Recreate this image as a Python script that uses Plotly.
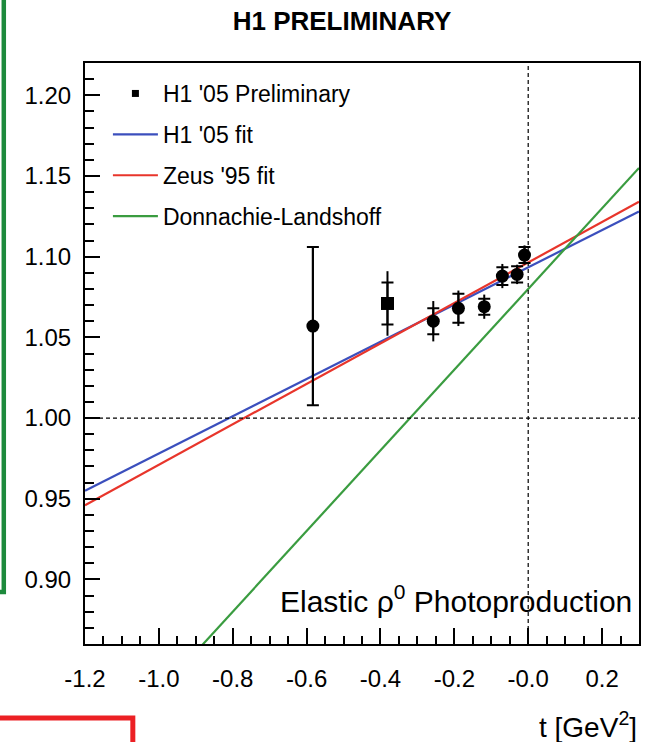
import plotly.graph_objects as go

# Measured Regge trajectory points alpha(t) for elastic rho0 photoproduction
t_data = [-0.583, -0.381, -0.257, -0.189, -0.119, -0.070, -0.030, -0.010]
alpha_data = [1.057, 1.071, 1.060, 1.068, 1.069, 1.088, 1.089, 1.101]
stat_err = [0.049, 0.013, 0.008, 0.009, 0.005, 0.0055, 0.005, 0.005]
total_err = [0.049, 0.020, 0.0125, 0.011, 0.0075, 0.0075, 0.006, 0.006]
point_symbols = ["circle", "square", "circle", "circle", "circle", "circle", "circle", "circle"]

# Straight-line trajectories, given by their values at the ends of the t range
t_fit = [-1.2, 0.3]
h1_fit = [0.955, 1.128]
zeus_fit = [0.946, 1.134]
dl_fit = [0.780, 1.155]

x_ticks = [-1.2, -1.0, -0.8, -0.6, -0.4, -0.2, 0.0, 0.2]
x_ticklabels = ["-1.2", "-1.0", "-0.8", "-0.6", "-0.4", "-0.2", "-0.0", "0.2"]
y_ticks = [0.90, 0.95, 1.00, 1.05, 1.10, 1.15, 1.20]
y_ticklabels = ["0.90", "0.95", "1.00", "1.05", "1.10", "1.15", "1.20"]

FONT = "Liberation Sans, Arial, Helvetica, sans-serif"
BLUE = "#3b4fbd"
RED = "#e8352b"
GREEN = "#3a9c40"

fig = go.Figure()

# legend entry for the data points (small square as in the ROOT legend)
fig.add_trace(go.Scatter(
    x=[None], y=[None], mode="markers", name="H1 '05 Preliminary",
    marker=dict(symbol="square", size=7, color="black"),
    legendgroup="a",
))

for name, vals, col, grp in [("H1 '05 fit", h1_fit, BLUE, "b"),
                             ("Zeus '95 fit", zeus_fit, RED, "c"),
                             ("Donnachie-Landshoff", dl_fit, GREEN, "d")]:
    fig.add_trace(go.Scatter(
        x=t_fit, y=vals, mode="lines", name=name,
        line=dict(color=col, width=2.2), legendgroup=grp,
    ))

# total errors (plain bars)
fig.add_trace(go.Scatter(
    x=t_data, y=alpha_data, mode="markers", showlegend=False,
    marker=dict(size=1, color="rgba(0,0,0,0)"),
    error_y=dict(type="data", array=total_err, width=0, thickness=2, color="black"),
))
# statistical errors (with crossbars)
fig.add_trace(go.Scatter(
    x=t_data, y=alpha_data, mode="markers", showlegend=False,
    marker=dict(size=1, color="rgba(0,0,0,0)"),
    error_y=dict(type="data", array=stat_err, width=6, thickness=2, color="black"),
))
fig.add_trace(go.Scatter(
    x=t_data, y=alpha_data, mode="markers", showlegend=False,
    marker=dict(symbol=point_symbols, size=13, color="black"),
))

# reference lines alpha = 1 and t = 0
fig.add_shape(type="line", xref="x", yref="y", x0=-1.2, x1=0.3, y0=1.0, y1=1.0,
              line=dict(color="black", width=1.2, dash="4px,3px"))
fig.add_shape(type="line", xref="x", yref="y", x0=0.0, x1=0.0, y0=0.86, y1=1.22,
              line=dict(color="black", width=1.2, dash="4px,3px"))

# surrounding slide frames
PW, PH, L, B = 556.0, 581.0, 85.0, 644.0
def px(x):
    return (x - L) / PW
def py(y):
    return (B - y) / PH

fig.add_shape(type="path", xref="paper", yref="paper",
              path=f"M {px(-20)},{py(592)} L {px(3.5)},{py(592)} L {px(3.5)},{py(-10)}",
              line=dict(color="#1d8a3c", width=4.5))
fig.add_shape(type="path", xref="paper", yref="paper",
              path=f"M {px(-20)},{py(718)} L {px(133)},{py(718)} L {px(133)},{py(760)}",
              line=dict(color="#ec2024", width=5))

fig.add_annotation(
    text="Elastic \u03c1<sup>0</sup> Photoproduction", xref="paper", yref="paper",
    x=px(636), y=py(599), xanchor="right", yanchor="middle", showarrow=False,
    font=dict(family=FONT, size=30, color="black"),
)
fig.add_annotation(
    text="t [GeV<sup>2</sup>]", xref="paper", yref="paper",
    x=px(641), y=py(725), xanchor="right", yanchor="middle", showarrow=False,
    font=dict(family=FONT, size=28, color="black"),
)

fig.update_layout(
    width=648, height=742,
    margin=dict(l=85, r=7, t=63, b=98),
    paper_bgcolor="white", plot_bgcolor="white",
    font=dict(family=FONT, color="black"),
    title=dict(text="<b>H1 PRELIMINARY</b>", x=342 / 648, xanchor="center",
               y=1 - 21 / 742, yanchor="middle",
               font=dict(family=FONT, size=26, color="black")),
    legend=dict(x=px(108), y=py(72), xanchor="left", yanchor="top",
                bgcolor="rgba(0,0,0,0)", font=dict(family=FONT, size=23, color="black"),
                itemwidth=45, tracegroupgap=8),
    showlegend=True,
)

fig.update_xaxes(
    range=[-1.2, 0.3], showgrid=False, zeroline=False,
    showline=True, linecolor="black", linewidth=2, mirror=True,
    tickmode="array", tickvals=x_ticks, ticktext=x_ticklabels,
    ticks="inside", ticklen=16, tickwidth=1.5, tickcolor="black",
    minor=dict(dtick=0.05, tick0=0, ticks="inside", ticklen=8, tickwidth=1.5, tickcolor="black"),
    tickfont=dict(family=FONT, size=24, color="black"), ticklabelstandoff=12,
)
fig.update_yaxes(
    range=[0.86, 1.22], showgrid=False, zeroline=False,
    showline=True, linecolor="black", linewidth=2, mirror=True,
    tickmode="array", tickvals=y_ticks, ticktext=y_ticklabels,
    ticks="inside", ticklen=15, tickwidth=1.5, tickcolor="black",
    minor=dict(dtick=0.01, tick0=0, ticks="inside", ticklen=9, tickwidth=1.5, tickcolor="black"),
    tickfont=dict(family=FONT, size=24, color="black"), ticklabelstandoff=7,
)

fig.write_html("out.html")
